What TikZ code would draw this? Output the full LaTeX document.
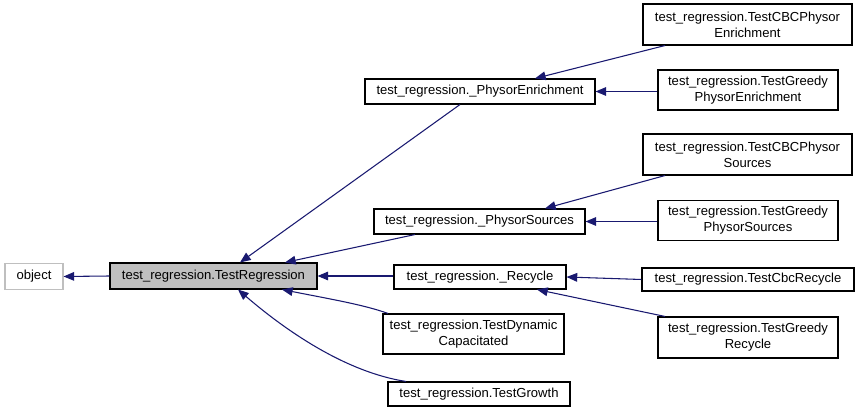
\documentclass[tikz,border=0pt]{standalone}
\usepackage{fontspec}
\setmainfont{Liberation Sans}
\usetikzlibrary{arrows.meta}
\definecolor{edgec}{HTML}{191970}
\definecolor{grayfill}{HTML}{BFBFBF}
\tikzset{
  cls/.style={draw=black, line width=0.8pt, inner sep=0pt, align=center, font=\fontsize{9.8}{12}\selectfont, fill=white},
  edge/.style={draw=edgec, line width=0.8pt, {Triangle[length=8pt,width=6.5pt]}-},
}
\begin{document}
\begin{tikzpicture}[x=0.75pt,y=-0.75pt]
\useasboundingbox (0,0) rectangle (861,413);
% nodes
\node[cls, draw=grayfill, minimum width=58*0.75pt, minimum height=26*0.75pt] (obj) at (34,276.5) {object};
\node[cls, fill=grayfill, minimum width=207*0.75pt, minimum height=26*0.75pt] (TR) at (213.5,276) {test\_regression.TestRegression};
\node[cls, minimum width=230*0.75pt, minimum height=25*0.75pt] (PE) at (480,91.5) {test\_regression.\_PhysorEnrichment};
\node[cls, minimum width=209*0.75pt, minimum height=41*0.75pt] (CPE) at (747.5,24.5) {test\_regression.TestCBCPhysor\\Enrichment};
\node[cls, minimum width=180*0.75pt, minimum height=40*0.75pt] (GPE) at (748,90) {test\_regression.TestGreedy\\PhysorEnrichment};
\node[cls, minimum width=211*0.75pt, minimum height=25*0.75pt] (PS) at (479.5,221.5) {test\_regression.\_PhysorSources};
\node[cls, minimum width=209*0.75pt, minimum height=41*0.75pt] (CPS) at (747.5,154.5) {test\_regression.TestCBCPhysor\\Sources};
\node[cls, minimum width=180*0.75pt, minimum height=40*0.75pt] (GPS) at (748,220.5) {test\_regression.TestGreedy\\PhysorSources};
\node[cls, minimum width=172*0.75pt, minimum height=24*0.75pt] (RC) at (480,277) {test\_regression.\_Recycle};
\node[cls, minimum width=212*0.75pt, minimum height=23*0.75pt] (CRC) at (748,279.5) {test\_regression.TestCbcRecycle};
\node[cls, minimum width=180*0.75pt, minimum height=41*0.75pt] (GRC) at (748,337.5) {test\_regression.TestGreedy\\Recycle};
\node[cls, minimum width=181*0.75pt, minimum height=40*0.75pt] (DC) at (473.5,334) {test\_regression.TestDynamic\\Capacitated};
\node[cls, minimum width=182*0.75pt, minimum height=24*0.75pt] (GR) at (479,394) {test\_regression.TestGrowth};
% edges
\draw[edge] (obj.east) -- (TR.west);
\draw[edge] (240,0 |- TR.north) -- (460,0 |- PE.south);
\draw[edge] (285,0 |- TR.north) -- (415,0 |- PS.south);
\draw[edge] (TR.east) -- (RC.west |- TR.east);
\draw[edge] (282,0 |- TR.south) .. controls (330,299) and (365,305) .. (388,0 |- DC.north);
\draw[edge] (238,0 |- TR.south) .. controls (285,330) and (345,372) .. (406,0 |- GR.north);
\draw[edge] (535,0 |- PE.north) -- (665,0 |- CPE.south);
\draw[edge] (PE.east) -- (GPE.west |- PE.east);
\draw[edge] (545,0 |- PS.north) -- (665,0 |- CPS.south);
\draw[edge] (PS.east) -- (GPS.west |- PS.east);
\draw[edge] (RC.east) -- (CRC.west);
\draw[edge] (537,0 |- RC.south) -- (665,0 |- GRC.north);
\end{tikzpicture}
\end{document}
